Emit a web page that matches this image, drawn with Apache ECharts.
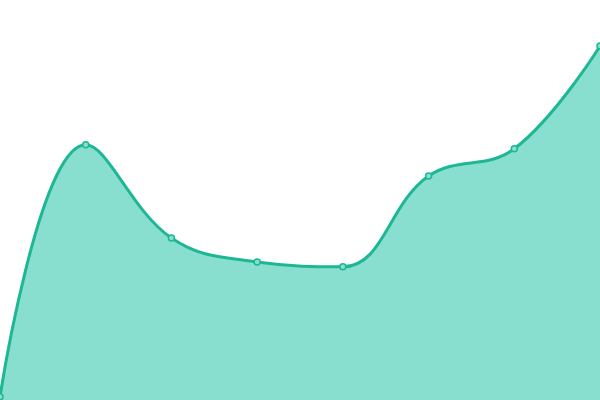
<!DOCTYPE html>
<html>
<head>
<meta charset="utf-8">
<script src="https://cdn.jsdelivr.net/npm/echarts@6/dist/echarts.min.js"></script>
<style>
    html, body { margin: 0; padding: 0; background: #fff; }
    #chart { width: 600px; height: 400px; }
</style>
</head>
<body>
<div id="chart"></div>
<script>
    // data
    var categories = ['1', '2', '3', '4', '5', '6', '7', '8'];
    var values = [0.8, 63.8, 40.5, 34.5, 33.3, 56, 62.8, 88.5];

    var myChart = echarts.init(document.getElementById('chart'));
    var option = {
        animation: false,
        grid: { left: 0, right: 0, top: 0, bottom: 0 },
        xAxis: {
            type: 'category',
            boundaryGap: false,
            data: categories,
            show: false
        },
        yAxis: {
            type: 'value',
            min: 0,
            max: 100,
            show: false
        },
        series: [
            {
                type: 'line',
                smooth: 0.4,
                data: values,
                symbol: 'circle',
                symbolSize: 6,
                showAllSymbol: true,
                lineStyle: { color: '#1db794', width: 3 },
                itemStyle: { color: '#88dfcf', borderColor: '#1db794', borderWidth: 1.5 },
                areaStyle: { color: '#88dfcf', opacity: 1 }
            }
        ]
    };
    myChart.setOption(option);
</script>
</body>
</html>
